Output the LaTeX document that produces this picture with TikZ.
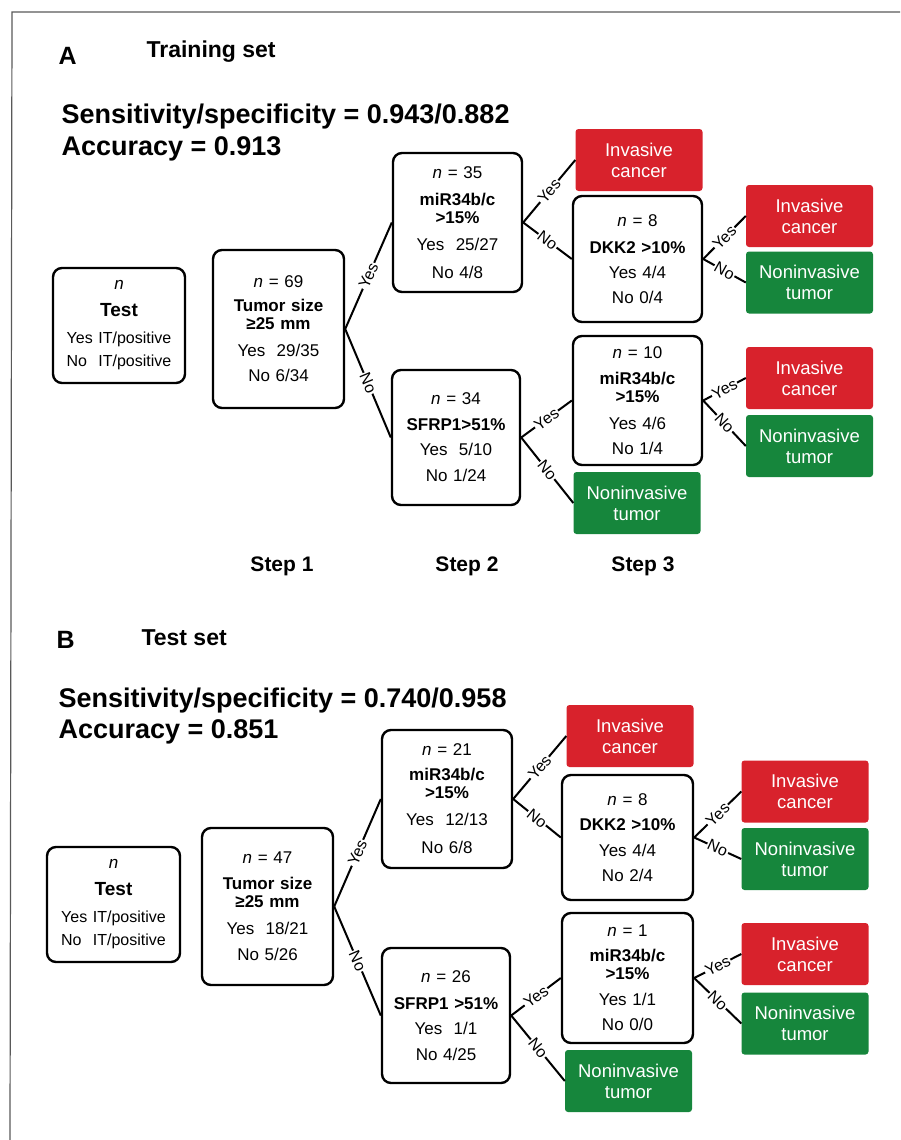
\documentclass[tikz,border=0pt]{standalone}
\usepackage{fontspec}
\setmainfont{Liberation Sans}
\usepackage{tikz}
\definecolor{cancerred}{RGB}{216,34,44}
\definecolor{tumorgreen}{RGB}{22,134,60}
\newcommand{\nn}[1]{\textit{n} = #1}

\begin{document}
\begin{tikzpicture}[x=1pt, y=-1pt,
  decision/.style={draw, line width=2.4pt, rounded corners=9pt, align=center,
    inner sep=0pt, text width=124pt, font=\fontsize{17}{18}\selectfont},
  outcome/.style={rounded corners=3pt, text=white, align=center, inner sep=0pt,
    minimum width=127pt, minimum height=62pt, font=\fontsize{18.5}{21}\selectfont},
  cancer/.style={outcome, fill=cancerred},
  benign/.style={outcome, fill=tumorgreen},
  link/.style={line width=2pt},
  answer/.style={sloped, fill=white, inner sep=1pt, font=\fontsize{16}{16}\selectfont},
  heading/.style={anchor=base west, font=\bfseries\fontsize{27}{30}\selectfont},
  steplabel/.style={font=\bfseries\fontsize{21}{21}\selectfont}]
  \useasboundingbox (0, 0) rectangle (900, 1140);

  % frame of the scanned page
  \draw[black!65, line width=1.2pt] (10, 1140) -- (12, 12) -- (900, 12);

  % ---------------- A: training set
  \node[anchor=base west, font=\bfseries\fontsize{25}{25}\selectfont]
    (labA) at (55, 65) {A};
  \node[anchor=base west, font=\bfseries\fontsize{23}{23}\selectfont]
    (titleA) at (143, 58) {Training set};
  \node[heading] (sensA) at (58, 123) {Sensitivity/specificity = 0.943/0.882};
  \node[heading] (accA) at (58, 155) {Accuracy = 0.913};

  \node[decision, minimum width=132pt, minimum height=115pt]
    (testA) at (119, 325.5) {\textit{n}\\[9pt] {\bfseries\fontsize{19}{19}\selectfont Test}\\[9pt]
    {\fontsize{16}{18}\selectfont Yes IT/positive}\\[5pt] {\fontsize{16}{18}\selectfont No\ \ IT/positive}};

  \node[decision, minimum width=131pt, minimum height=158pt]
    (s1A) at (278.5, 329) {\nn{69}\\[6pt] \textbf{Tumor size}\\ \textbf{≥25 mm}\\[9pt]
    Yes\ \ 29/35\\[7pt] No 6/34};

  \node[decision, minimum width=129pt, minimum height=139pt]
    (s2aA) at (457.5, 222.5) {\nn{35}\\[9pt] \textbf{miR34b/c}\\ \textbf{>15\%}\\[9pt]
    Yes\ \ 25/27\\[10pt] No 4/8};

  \node[decision, minimum width=128pt, minimum height=135pt]
    (s2bA) at (456, 437.5) {\nn{34}\\[8pt] \textbf{SFRP1>51\%}\\[7pt] Yes\ \ 5/10\\[8pt] No 1/24};

  \node[cancer] (invA1) at (639, 160) {Invasive\\cancer};

  \node[decision, minimum width=129pt, minimum height=126pt]
    (dkkA) at (637.5, 259) {\nn{8}\\[9pt] \textbf{DKK2 >10\%}\\[7pt] Yes 4/4\\[7pt] No 0/4};

  \node[decision, minimum width=129pt, minimum height=129pt]
    (s3bA) at (637.5, 400.5) {\nn{10}\\[8pt] \textbf{miR34b/c}\\ \textbf{>15\%}\\[9pt]
    Yes 4/6\\[7pt] No 1/4};

  \node[benign] (nonA1) at (637, 503) {Noninvasive\\tumor};

  \node[cancer] (invA2) at (809.5, 216) {Invasive\\cancer};
  \node[benign] (nonA2) at (809.5, 282.5) {Noninvasive\\tumor};
  \node[cancer] (invA3) at (809.5, 378) {Invasive\\cancer};
  \node[benign] (nonA3) at (809.5, 446) {Noninvasive\\tumor};

  \draw[link]
    (s1A.east) edge node[answer] {Yes} (s2aA.west)
    (s1A.east) edge node[answer] {No} (s2bA.west)
    (s2aA.east) edge node[answer] {Yes} (invA1.west)
    (s2aA.east) edge node[answer] {No} (dkkA.west)
    (s2bA.east) edge node[answer] {Yes} (s3bA.west)
    (s2bA.east) edge node[answer] {No} (nonA1.west)
    (dkkA.east) edge node[answer] {Yes} (invA2.west)
    (dkkA.east) edge node[answer] {No} (nonA2.west)
    (s3bA.east) edge node[answer] {Yes} (invA3.west)
    (s3bA.east) edge node[answer] {No} (nonA3.west);

  \node[steplabel] (step1) at (282, 566) {Step 1};
  \node[steplabel] (step2) at (467, 566) {Step 2};
  \node[steplabel] (step3) at (643, 566) {Step 3};

  % ---------------- B: test set
  \node[anchor=base west, font=\bfseries\fontsize{25}{25}\selectfont]
    (labB) at (53, 648) {B};
  \node[anchor=base west, font=\bfseries\fontsize{23}{23}\selectfont]
    (titleB) at (138, 645) {Test set};
  \node[heading] (sensB) at (55, 707) {Sensitivity/specificity = 0.740/0.958};
  \node[heading] (accB) at (55, 738) {Accuracy = 0.851};

  \node[decision, minimum width=133pt, minimum height=115pt]
    (testB) at (113.5, 904.5) {\textit{n}\\[9pt] {\bfseries\fontsize{19}{19}\selectfont Test}\\[9pt]
    {\fontsize{16}{18}\selectfont Yes IT/positive}\\[5pt] {\fontsize{16}{18}\selectfont No\ \ IT/positive}};

  \node[decision, minimum width=131pt, minimum height=157pt]
    (s1B) at (267.5, 906.5) {\nn{47}\\[8pt] \textbf{Tumor size}\\ \textbf{≥25 mm}\\[9pt]
    Yes\ \ 18/21\\[8pt] No 5/26};

  \node[decision, minimum width=130pt, minimum height=138pt]
    (s2aB) at (447, 799) {\nn{21}\\[7pt] \textbf{miR34b/c}\\ \textbf{>15\%}\\[9pt]
    Yes\ \ 12/13\\[10pt] No 6/8};

  \node[decision, minimum width=128pt, minimum height=135pt]
    (s2bB) at (446, 1015.5) {\nn{26}\\[9pt] \textbf{SFRP1 >51\%}\\[7pt] Yes\ \ 1/1\\[8pt] No 4/25};

  \node[cancer] (invB1) at (630, 736) {Invasive\\cancer};

  \node[decision, minimum width=131pt, minimum height=125pt]
    (dkkB) at (627.5, 837.5) {\nn{8}\\[7pt] \textbf{DKK2 >10\%}\\[8pt] Yes 4/4\\[7pt] No 2/4};

  \node[decision, minimum width=131pt, minimum height=130pt]
    (s3bB) at (627.5, 978) {\nn{1}\\[7pt] \textbf{miR34b/c}\\ \textbf{>15\%}\\[8pt]
    Yes 1/1\\[7pt] No 0/0};

  \node[benign] (nonB1) at (628.5, 1081) {Noninvasive\\tumor};

  \node[cancer] (invB2) at (805, 791.5) {Invasive\\cancer};
  \node[benign] (nonB2) at (805, 859) {Noninvasive\\tumor};
  \node[cancer] (invB3) at (805, 954) {Invasive\\cancer};
  \node[benign] (nonB3) at (805, 1023.5) {Noninvasive\\tumor};

  \draw[link]
    (s1B.east) edge node[answer] {Yes} (s2aB.west)
    (s1B.east) edge node[answer] {No} (s2bB.west)
    (s2aB.east) edge node[answer] {Yes} (invB1.west)
    (s2aB.east) edge node[answer] {No} (dkkB.west)
    (s2bB.east) edge node[answer] {Yes} (s3bB.west)
    (s2bB.east) edge node[answer] {No} (nonB1.west)
    (dkkB.east) edge node[answer] {Yes} (invB2.west)
    (dkkB.east) edge node[answer] {No} (nonB2.west)
    (s3bB.east) edge node[answer] {Yes} (invB3.west)
    (s3bB.east) edge node[answer] {No} (nonB3.west);
\end{tikzpicture}
\end{document}
